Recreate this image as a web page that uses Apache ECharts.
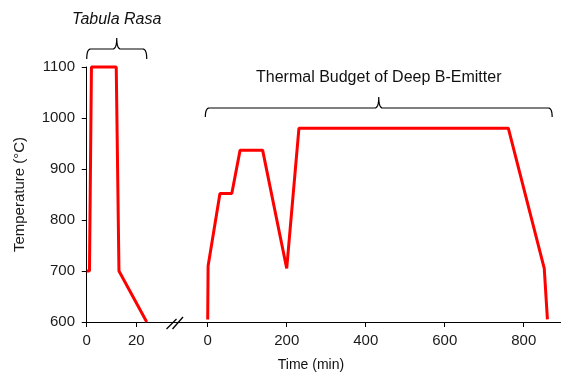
<!DOCTYPE html>
<html><head><meta charset="utf-8">
<script src="https://cdn.jsdelivr.net/npm/echarts@6/dist/echarts.min.js"></script>
<style>html,body{margin:0;padding:0;background:#fff}#c{width:561px;height:373px}</style>
</head><body><div id="c"></div>
<script>
// ---- data ----
const tabulaTime = [0, 1.1, 1.9, 11.9, 13.0, 24.2];
const tabulaTemp = [700, 700, 1100, 1100, 700, 600];
const thermalTime = [0, 1, 31, 61, 82, 139, 200, 231, 761, 852, 860];
const thermalTemp = [605, 710, 852, 852, 937, 937, 705, 980, 980, 705, 605];
const yTicks = [600, 700, 800, 900, 1000, 1100];
const leftXTicks = [0, 20];
const rightXTicks = [0, 200, 400, 600, 800];
const tabulaSpan = [0, 24.2];
const thermalSpan = [-6, 872];
const tabulaLabel = 'Tabula Rasa';
const thermalLabel = 'Thermal Budget of Deep B-Emitter';

const FONT = '"Liberation Sans", Arial, Helvetica, sans-serif';
const zip = (a, b) => a.map((v, i) => [v, b[i]]);
const chart = echarts.init(document.getElementById('c'), null, {renderer: 'canvas'});
const plain = v => String(v);

const axisLineStyle = {color: '#000', width: 1};
chart.setOption({
  animation: false,
  grid: [
    {left: 85, top: 67, width: 90, bottom: 51},
    {left: 175, top: 67, right: 0, bottom: 51}
  ],
  xAxis: [
    {type: 'value', gridIndex: 0, min: -0.7, max: 35.6,
     axisLine: {lineStyle: axisLineStyle},
     axisTick: {show: true, length: 5, customValues: leftXTicks, lineStyle: axisLineStyle},
     axisLabel: {customValues: leftXTicks, formatter: plain, fontSize: 15, color: '#1a1a1a', fontFamily: FONT, margin: 11},
     splitLine: {show: false}},
    {type: 'value', gridIndex: 1, min: -82.8, max: 894.4,
     axisLine: {lineStyle: axisLineStyle},
     axisTick: {show: true, length: 5, customValues: rightXTicks, lineStyle: axisLineStyle},
     axisLabel: {customValues: rightXTicks, formatter: plain, fontSize: 15, color: '#1a1a1a', fontFamily: FONT, margin: 11},
     splitLine: {show: false}}
  ],
  yAxis: [
    {type: 'value', gridIndex: 0, min: 600, max: 1100, interval: 100,
     name: 'Temperature (°C)', nameLocation: 'middle', nameGap: 58,
     nameTextStyle: {fontSize: 15, color: '#1a1a1a', fontFamily: FONT},
     axisLine: {show: true, lineStyle: axisLineStyle},
     axisTick: {show: true, length: 5, lineStyle: axisLineStyle},
     axisLabel: {fontSize: 15, color: '#1a1a1a', fontFamily: FONT, margin: 10, formatter: plain},
     splitLine: {show: false}},
    {type: 'value', gridIndex: 1, min: 600, max: 1100, interval: 100,
     axisLine: {show: false}, axisTick: {show: false}, axisLabel: {show: false}, splitLine: {show: false}}
  ],
  series: [
    {type: 'line', xAxisIndex: 0, yAxisIndex: 0, data: zip(tabulaTime, tabulaTemp),
     showSymbol: false, clip: false, lineStyle: {color: '#ff0000', width: 3}},
    {type: 'line', xAxisIndex: 1, yAxisIndex: 1, data: zip(thermalTime, thermalTemp),
     showSymbol: false, clip: false, lineStyle: {color: '#ff0000', width: 3}}
  ]
});

function quad(p0, p1, p2, n) {
  const out = [];
  for (let i = 0; i <= n; i++) {
    const t = i / n, u = 1 - t;
    out.push([u * u * p0[0] + 2 * u * t * p1[0] + t * t * p2[0], u * u * p0[1] + 2 * u * t * p1[1] + t * t * p2[1]]);
  }
  return out;
}
function brace(x1, x2, yTip, yBar, yPeak) {
  const xm = (x1 + x2) / 2, r = 4;
  return [].concat(
    quad([x1, yTip], [x1, yBar], [x1 + r, yBar], 8),
    quad([xm - r, yBar], [xm, yBar], [xm, yPeak], 8),
    quad([xm, yPeak], [xm, yBar], [xm + r, yBar], 8),
    quad([x2 - r, yBar], [x2, yBar], [x2, yTip], 8)
  );
}
const tx1 = chart.convertToPixel({xAxisIndex: 0}, tabulaSpan[0]);
const tx2 = chart.convertToPixel({xAxisIndex: 0}, tabulaSpan[1]);
const hx1 = chart.convertToPixel({xAxisIndex: 1}, thermalSpan[0]);
const hx2 = chart.convertToPixel({xAxisIndex: 1}, thermalSpan[1]);

chart.setOption({
  graphic: [
    {type: 'polyline', shape: {points: brace(tx1, tx2, 59, 49, 38)}, style: {fill: null, stroke: '#000', lineWidth: 1.2}},
    {type: 'polyline', shape: {points: brace(hx1, hx2, 117, 108, 97)}, style: {fill: null, stroke: '#000', lineWidth: 1.2}},
    {type: 'text', x: (tx1 + tx2) / 2, y: 20, style: {text: tabulaLabel, font: 'italic 16px ' + FONT, fill: '#111', align: 'center', verticalAlign: 'middle'}},
    {type: 'text', x: (hx1 + hx2) / 2, y: 78, style: {text: thermalLabel, font: '16px ' + FONT, fill: '#111', align: 'center', verticalAlign: 'middle'}},
    {type: 'text', x: 311, y: 365, style: {text: 'Time (min)', font: '14px ' + FONT, fill: '#111', align: 'center', verticalAlign: 'middle'}},
    {type: 'line', shape: {x1: 166.5, y1: 329, x2: 176.5, y2: 319}, style: {stroke: '#000', lineWidth: 1.3}},
    {type: 'line', shape: {x1: 172.5, y1: 329, x2: 183, y2: 317}, style: {stroke: '#000', lineWidth: 1.3}}
  ]
});
</script></body></html>
